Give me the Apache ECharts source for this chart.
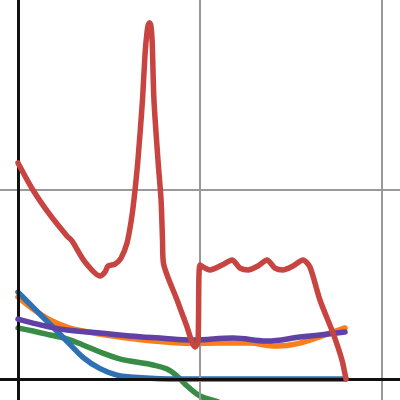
<!DOCTYPE html>
<html>
<head>
<meta charset="utf-8">
<script src="https://cdn.jsdelivr.net/npm/echarts@6/dist/echarts.min.js"></script>
<style>html,body{margin:0;padding:0;background:#fff}#c{width:400px;height:400px}</style>
</head>
<body>
<div id="c"></div>
<script>
const gridX = [1, 2];
const gridY = [1];

const redX = [0, 0.082, 0.176, 0.269, 0.297, 0.368, 0.451, 0.478, 0.495, 0.533, 0.566, 0.599, 0.621, 0.637, 0.659, 0.684, 0.698, 0.709, 0.716, 0.723, 0.730, 0.737, 0.747, 0.769, 0.786, 0.794, 0.799, 0.874, 0.923, 0.973, 0.989, 1.0, 1.055, 1.121, 1.176, 1.220, 1.264, 1.319, 1.368, 1.412, 1.456, 1.511, 1.566, 1.604, 1.659, 1.731, 1.780, 1.802];
const redY = [1.143, 1.0, 0.868, 0.757, 0.730, 0.619, 0.545, 0.566, 0.598, 0.608, 0.640, 0.720, 0.831, 0.947, 1.159, 1.476, 1.720, 1.836, 1.875, 1.884, 1.870, 1.790, 1.476, 1.159, 0.947, 0.735, 0.614, 0.418, 0.291, 0.169, 0.196, 0.603, 0.577, 0.603, 0.630, 0.587, 0.577, 0.598, 0.630, 0.587, 0.577, 0.598, 0.630, 0.593, 0.418, 0.243, 0.101, 0];

const blueX = [0, 0.082, 0.176, 0.269, 0.357, 0.451, 0.544, 0.615, 0.780, 1.0, 1.802];
const blueY = [0.46, 0.38, 0.29, 0.20, 0.115, 0.055, 0.021, 0.011, 0.002, 0, 0];

const orangeX = [0, 0.082, 0.176, 0.269, 0.357, 0.451, 0.599, 0.742, 0.962, 1.110, 1.275, 1.401, 1.495, 1.604, 1.714, 1.797];
const orangeY = [0.434, 0.370, 0.312, 0.275, 0.254, 0.238, 0.217, 0.201, 0.188, 0.190, 0.190, 0.175, 0.180, 0.206, 0.243, 0.270];

const purpleX = [0, 0.082, 0.176, 0.269, 0.451, 0.615, 0.780, 0.962, 1.181, 1.368, 1.549, 1.659, 1.797];
const purpleY = [0.317, 0.296, 0.275, 0.259, 0.243, 0.228, 0.217, 0.206, 0.217, 0.201, 0.222, 0.233, 0.249];

const greenX = [0, 0.082, 0.176, 0.269, 0.357, 0.451, 0.544, 0.615, 0.742, 0.819, 0.874, 0.929, 1.0, 1.082, 1.22];
const greenY = [0.270, 0.254, 0.233, 0.212, 0.180, 0.143, 0.111, 0.095, 0.074, 0.053, 0.016, -0.037, -0.090, -0.116, -0.164];

const zip = (xs, ys) => xs.map((x, i) => [x, ys[i]]);

function curve(name, xs, ys, color, z, smooth) {
  return {
    name, type: 'line', data: zip(xs, ys), showSymbol: false, symbol: 'none',
    smooth, z, clip: true,
    lineStyle: { color, width: 5.5, cap: 'round', join: 'round' }, silent: true
  };
}

const chart = echarts.init(document.getElementById('c'), null, { renderer: 'canvas' });
chart.setOption({
  animation: false,
  grid: { left: 0, right: 0, top: 0, bottom: 0 },
  xAxis: { type: 'value', min: -0.099, max: 2.099, show: false },
  yAxis: { type: 'value', min: -0.111, max: 2.005, show: false },
  series: [
    {
      type: 'line', data: [], z: 0, silent: true,
      markLine: {
        silent: true, symbol: 'none', animation: false, label: { show: false },
        lineStyle: { color: '#999', width: 2, type: 'solid' },
        data: gridX.map(v => ({ xAxis: v })).concat(gridY.map(v => ({ yAxis: v })))
      }
    },
    {
      type: 'line', data: [], z: 1, silent: true,
      markLine: {
        silent: true, symbol: 'none', animation: false, label: { show: false },
        lineStyle: { color: '#111', width: 3, type: 'solid' },
        data: [{ xAxis: 0 }, { yAxis: 0 }]
      }
    },
    curve('green', greenX, greenY, '#388c46', 2, 0.4),
    curve('orange', orangeX, orangeY, '#fa7e19', 3, 0.4),
    curve('blue', blueX, blueY, '#2d70b3', 4, 0.4),
    curve('purple', purpleX, purpleY, '#6042a6', 5, 0.4),
    curve('red', redX, redY, '#c74440', 6, 0.25)
  ]
});
</script>
</body>
</html>
